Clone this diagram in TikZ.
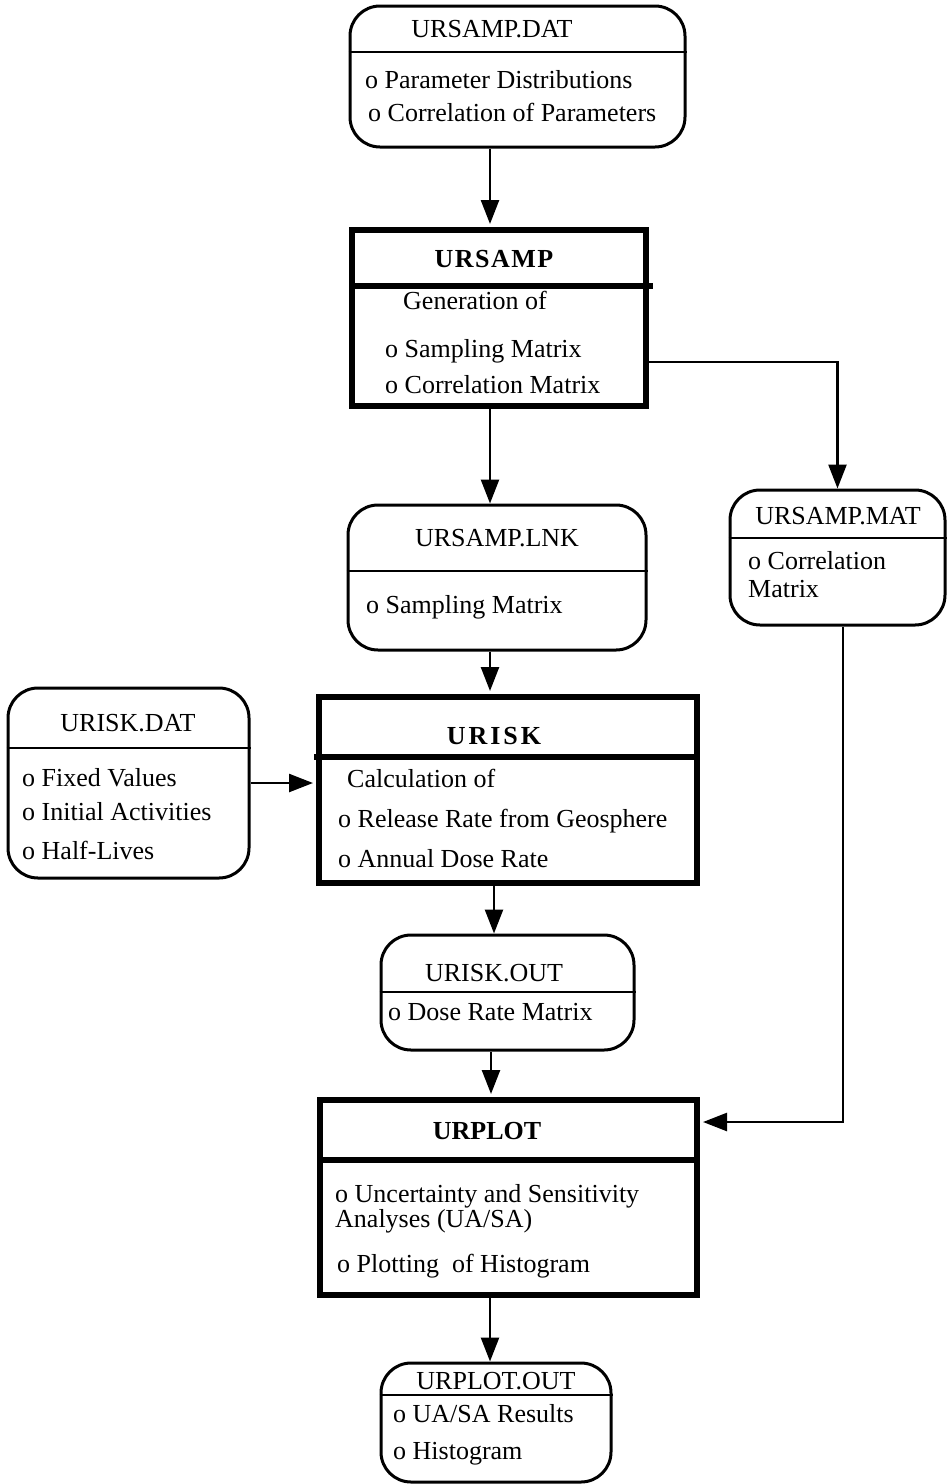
\documentclass[tikz,border=0pt]{standalone}
\usepackage{fontspec}
\setmainfont{Liberation Serif}
\usetikzlibrary{arrows.meta}
\begin{document}
\begin{tikzpicture}[x=1pt,y=-1pt,
  font=\fontsize{26}{31}\selectfont,
  filebox/.style={draw,line width=3pt,rounded corners=30pt,inner sep=0pt},
  procbox/.style={draw,line width=6pt,inner sep=0pt},
  divthin/.style={line width=2.5pt},
  divthick/.style={line width=5.5pt},
  lbl/.style={inner sep=0pt,anchor=base west},
  ttl/.style={inner sep=0pt,anchor=base},
  conn/.style={line width=2.5pt,-{Triangle[length=24pt,width=18pt]}},
  wire/.style={line width=2.5pt}
]
\useasboundingbox (0,0) rectangle (946,1484);

% ---------- URSAMP.DAT ----------
\node[filebox,minimum width=335pt,minimum height=141pt] (f1) at (517.5,76.5) {};
\draw[divthin] (f1.west |- 0,52) -- (f1.east |- 0,52);
\node[ttl] (f1t) at (492,37) {URSAMP.DAT};
\node[lbl] (f1a) at (365,88) {o Parameter Distributions};
\node[lbl] (f1b) at (368,121) {o Correlation of Parameters};

% ---------- URSAMP ----------
\node[procbox,minimum width=294pt,minimum height=176pt] (p1) at (499,318) {};
\draw[divthick] (p1.west |- 0,286) -- (653,286);
\node[ttl] (p1t) at (494,267) {\bfseries U\kern1.5pt R\kern1.5pt S\kern1.5pt A\kern1.5pt M\kern1.5pt P};
\node[lbl] (p1a) at (403,309) {Generation of};
\node[lbl] (p1b) at (385,357) {o Sampling Matrix};
\node[lbl] (p1c) at (385,393) {o Correlation Matrix};

% ---------- URSAMP.LNK ----------
\node[filebox,minimum width=298pt,minimum height=145pt] (f2) at (497,577.5) {};
\draw[divthin] (f2.west |- 0,571) -- (f2.east |- 0,571);
\node[ttl] (f2t) at (497,546) {URSAMP.LNK};
\node[lbl] (f2a) at (366,613) {o Sampling Matrix};

% ---------- URSAMP.MAT ----------
\node[filebox,minimum width=215pt,minimum height=135pt] (f3) at (837.5,557.5) {};
\draw[divthin] (f3.west |- 0,538) -- (f3.east |- 0,538);
\node[ttl] (f3t) at (838,524) {URSAMP.MAT};
\node[lbl] (f3a) at (748,569) {o Correlation};
\node[lbl] (f3b) at (748,597) {Matrix};

% ---------- URISK.DAT ----------
\node[filebox,minimum width=241pt,minimum height=190pt] (f4) at (128.5,783) {};
\draw[divthin] (f4.west |- 0,748) -- (f4.east |- 0,748);
\node[ttl] (f4t) at (128,731) {URISK.DAT};
\node[lbl] (f4a) at (22,786) {o Fixed Values};
\node[lbl] (f4b) at (22,820) {o Initial Activities};
\node[lbl] (f4c) at (22,859) {o Half-Lives};

% ---------- URISK ----------
\node[procbox,minimum width=378pt,minimum height=186pt] (p2) at (508,790) {};
\draw[divthick] (314,757) -- (p2.east |- 0,757);
\node[ttl] (p2t) at (494,744) {\bfseries U\kern3pt R\kern3pt I\kern3pt S\kern3pt K};
\node[lbl] (p2a) at (347,787) {Calculation of};
\node[lbl] (p2b) at (338,827) {o Release Rate from Geosphere};
\node[lbl] (p2c) at (338,867) {o Annual Dose Rate};

% ---------- URISK.OUT ----------
\node[filebox,minimum width=253pt,minimum height=115pt] (f5) at (507.5,992.5) {};
\draw[divthin] (f5.west |- 0,992) -- (f5.east |- 0,992);
\node[ttl] (f5t) at (494,981) {URISK.OUT};
\node[lbl] (f5a) at (388,1020) {o Dose Rate Matrix};

% ---------- URPLOT ----------
\node[procbox,minimum width=377pt,minimum height=195pt] (p3) at (508.5,1197.5) {};
\draw[divthick] (p3.west |- 0,1160) -- (p3.east |- 0,1160);
\node[ttl] (p3t) at (487,1139) {\bfseries URPLOT};
\node[lbl] (p3a) at (335,1202) {o Uncertainty and Sensitivity};
\node[lbl] (p3b) at (335,1227) {Analyses (UA/SA)};
\node[lbl] (p3c) at (337,1272) {o Plotting\ \ of Histogram};

% ---------- URPLOT.OUT ----------
\node[filebox,minimum width=230pt,minimum height=119pt] (f6) at (496,1422.5) {};
\draw[divthin] (f6.west |- 0,1395) -- (f6.east |- 0,1395);
\node[ttl] (f6t) at (496,1389) {URPLOT.OUT};
\node[lbl] (f6a) at (393,1422) {o UA/SA Results};
\node[lbl] (f6b) at (393,1459) {o Histogram};

% ---------- connectors ----------
\draw[conn,shorten >=3pt] (f1.south -| 490,0) -- (p1.north -| 490,0);
\draw[conn] (p1.south -| 490,0) -- (f2.north -| 490,0);
\draw[conn,shorten >=3pt] (f2.south -| 490,0) -- (p2.north -| 490,0);
\draw[conn,shorten >=3pt] (f4.east |- 0,783) -- (p2.west |- 0,783);
\draw[conn] (p2.south -| 494,0) -- (f5.north -| 494,0);
\draw[conn,shorten >=3pt] (f5.south -| 491,0) -- (p3.north -| 491,0);
\draw[conn] (p3.south -| 490,0) -- (f6.north -| 490,0);
\draw[conn] (p1.east |- 0,362) -| (f3.north);
\draw[conn,shorten >=3pt] (f3.south -| 843,0) |- (p3.east |- 0,1122);
\end{tikzpicture}
\end{document}
